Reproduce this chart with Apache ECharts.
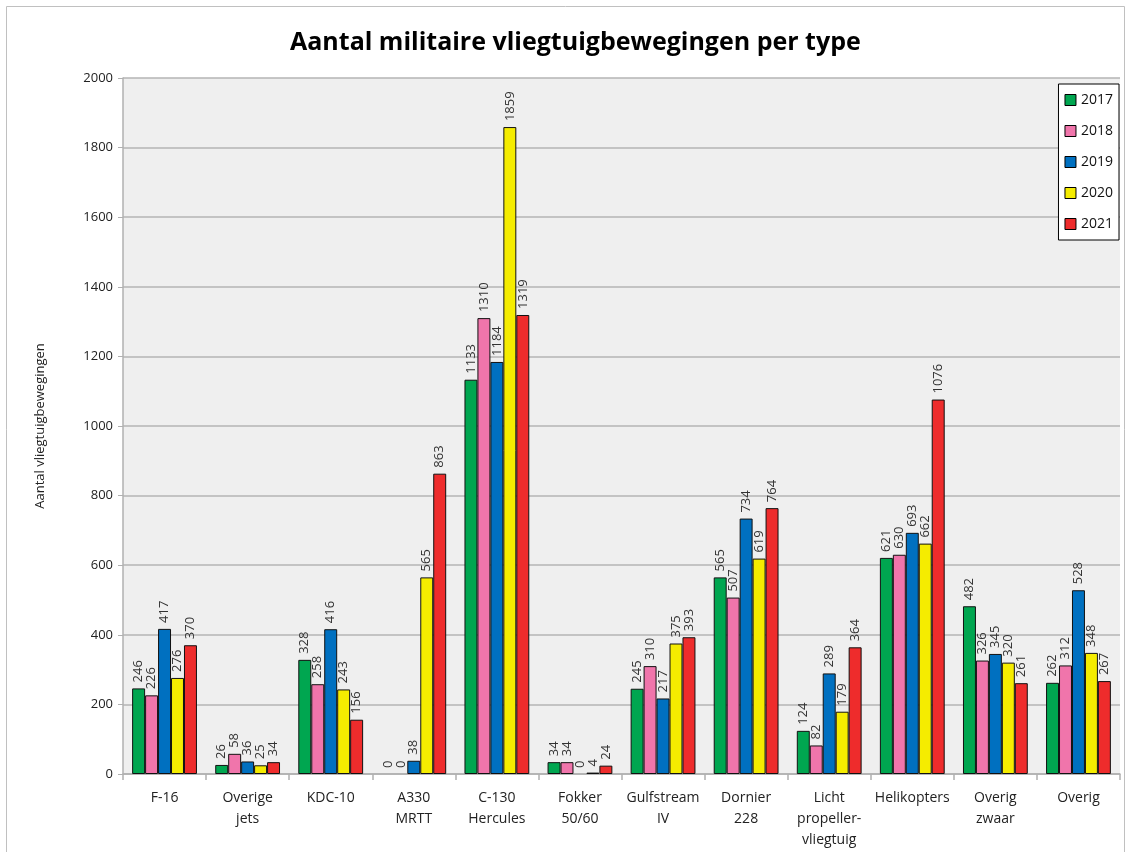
<!DOCTYPE html>
<html><head><meta charset="utf-8">
<script src="https://cdn.jsdelivr.net/npm/echarts@6/dist/echarts.min.js"></script>
<style>html,body{margin:0;padding:0;background:#fff}#c{width:1127px;height:852px}</style>
</head><body><div id="c"></div>
<script>
const categories = ["F-16","Overige\njets","KDC-10","A330\nMRTT","C-130\nHercules","Fokker\n50/60","Gulfstream\nIV","Dornier\n228","Licht\npropeller-\nvliegtuig","Helikopters","Overig\nzwaar","Overig"];
const years = ["2017","2018","2019","2020","2021"];
const v2017 = [246,26,328,0,1133,34,245,565,124,621,482,262];
const v2018 = [226,58,258,0,1310,34,310,507,82,630,326,312];
const v2019 = [417,36,416,38,1184,0,217,734,289,693,345,528];
const v2020 = [276,25,243,565,1859,4,375,619,179,662,320,348];
const v2021 = [370,34,156,863,1319,24,393,764,364,1076,261,267];
const yTicks = [0,200,400,600,800,1000,1200,1400,1600,1800,2000];
const colors = ["#00a650","#f075ab","#0070c0","#f5ec00","#ee2c2c"];
const values = [v2017,v2018,v2019,v2020,v2021];
const font = "'Open Sans', 'Liberation Sans', sans-serif";
const chart = echarts.init(document.getElementById('c'), null, {renderer:'canvas'});
chart.setOption({
  animation:false,
  backgroundColor:'#fff',
  color: colors,
  graphic:[{type:'rect',shape:{x:6.5,y:6.5,width:1118,height:860},style:{fill:'none',stroke:'#c0c0c0',lineWidth:1},z:-10}],
  title:{text:'Aantal militaire vliegtuigbewegingen per type',left:285,top:25,
    textStyle:{fontFamily:font,fontSize:25,fontWeight:'bold',color:'#000'}},
  legend:{orient:'vertical',right:8,top:84,data:years,backgroundColor:'#fff',borderColor:'#000',borderWidth:1,
    padding:[9,6,9,6],itemGap:17,itemWidth:11,itemHeight:11,icon:'rect',
    textStyle:{fontFamily:font,fontSize:14,color:'#111'},
    itemStyle:{borderColor:'#000',borderWidth:1}},
  grid:{left:123,right:7,top:78,bottom:78,backgroundColor:'#efefef',show:true,borderWidth:0},
  xAxis:{type:'category',data:categories,
    axisLine:{lineStyle:{color:'#b0b0b0',width:1.5}},
    axisTick:{show:true,length:6,lineStyle:{color:'#b0b0b0',width:1.5}},
    axisLabel:{fontFamily:font,fontSize:14,color:'#222',lineHeight:21,margin:14,interval:0}},
  yAxis:{type:'value',min:0,max:2000,interval:200,
    name:'Aantal vliegtuigbewegingen',nameLocation:'middle',nameGap:76,nameRotate:90,
    nameTextStyle:{fontFamily:font,fontSize:13,color:'#222'},
    axisLine:{show:true,lineStyle:{color:'#b0b0b0',width:1.5}},
    axisTick:{show:true,length:5,lineStyle:{color:'#b0b0b0'}},
    axisLabel:{fontFamily:font,fontSize:13,color:'#222',margin:10,
      formatter:function(v){return yTicks.indexOf(v)>=0?String(v):'';}},
    splitLine:{lineStyle:{color:'#b4b4b4',width:1.5}}},
  series: years.map((y,i)=>({name:y,type:'bar',
    data:values[i].map(v=>v===0?{value:v,itemStyle:{borderWidth:0}}:v),
    barGap:'0%',barCategoryGap:'22%',
    itemStyle:{color:colors[i],borderColor:'#111',borderWidth:1},
    label:{show:true,position:'top',rotate:90,align:'left',verticalAlign:'middle',distance:6,
      fontFamily:font,fontSize:13,color:'#333'}}))
});
</script></body></html>
